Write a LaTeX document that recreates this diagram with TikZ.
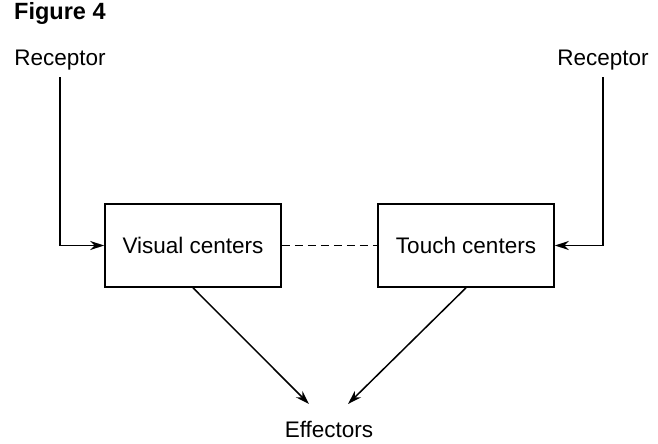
\documentclass[tikz,border=0pt]{standalone}
\usepackage{fontspec}
\setmainfont{Liberation Sans}
\usetikzlibrary{arrows.meta}
\begin{document}
\begin{tikzpicture}[x=1pt,y=-1pt,
  lbl/.style={inner sep=0pt, font=\fontsize{22.5}{26}\selectfont},
  center/.style={draw, line width=1.6pt, minimum width=176pt, minimum height=83pt,
    inner sep=0pt, font=\fontsize{22.5}{26}\selectfont},
  link/.style={line width=1.5pt, -{Stealth[length=14pt,width=9pt]}},
  dashlink/.style={line width=1.5pt, dash pattern=on 8pt off 5pt}]
  \useasboundingbox (0,0) rectangle (658,444);
  % heading
  \node[anchor=base west, inner sep=0pt, font=\fontsize{23.5}{27}\selectfont\bfseries] (title) at (14,20) {Figure 4};
  % receptors
  \node[lbl, anchor=base] (recL) at (60,65) {Receptor};
  \node[lbl, anchor=base] (recR) at (603,65) {Receptor};
  % centres
  \node[center] (vis) at (193,245.5) {Visual centers};
  \node[center] (touch) at (466,245.5) {Touch centers};
  % output
  \node[lbl, anchor=base] (eff) at (329,437) {Effectors};
  \coordinate (effL) at (309,404);
  \coordinate (effR) at (348,404);
  % receptor inputs
  \draw[link] (recL.south |- 0,77) |- (vis.west);
  \draw[link] (recR.south |- 0,77) |- (touch.east);
  % link between centres
  \draw[dashlink] (vis.east) -- (touch.west);
  % outputs to effectors
  \draw[link] (vis.south) -- (effL);
  \draw[link] (touch.south) -- (effR);
\end{tikzpicture}
\end{document}
